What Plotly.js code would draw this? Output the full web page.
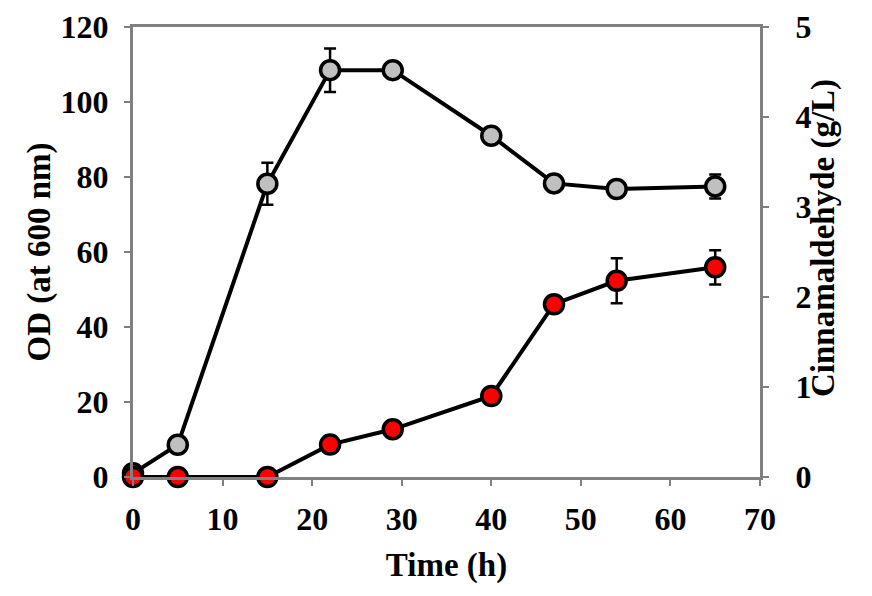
<!DOCTYPE html>
<html>
<head>
<meta charset="utf-8">
<script src="https://cdn.plot.ly/plotly-3.0.1.min.js"></script>
<style>
  body { margin: 0; background: #fff; }
  #chart { width: 872px; height: 596px; }
</style>
</head>
<body>
<div id="chart"></div>
<script>
// time points (h)
var timeH = [0, 5, 15, 22, 29, 40, 47, 54, 65];

// OD at 600 nm (left axis)
var odValues = [1, 8.6, 78.2, 108.5, 108.5, 91, 78.3, 76.8, 77.5];
var odErr    = [0, 0, 5.6, 5.8, 0, 0, 0, 0, 3.2];

// cinnamaldehyde g/L (right axis)
var cinValues = [0, 0, 0, 0.36, 0.53, 0.9, 1.92, 2.18, 2.33];
var cinErr    = [0, 0, 0, 0, 0, 0, 0, 0.25, 0.19];

var serif = "Liberation Serif, Times New Roman, serif";
var tickFont = {family: serif, size: 32, color: "#000", weight: "bold"};
var titleFont = {family: serif, size: 33, color: "#000", weight: "bold"};

var od = {
  x: timeH, y: odValues,
  mode: "lines+markers",
  cliponaxis: false,
  line: {color: "#000", width: 4},
  marker: {size: 19, color: "#c0c0c0", line: {color: "#000", width: 3.5}},
  error_y: {type: "data", array: odErr, color: "#000", thickness: 2.5, width: 6},
  yaxis: "y"
};

var cin = {
  x: timeH, y: cinValues,
  mode: "lines+markers",
  cliponaxis: false,
  line: {color: "#000", width: 4},
  marker: {size: 19, color: "#ff0000", line: {color: "#000", width: 3.5}},
  error_y: {type: "data", array: cinErr, color: "#000", thickness: 2.5, width: 6},
  yaxis: "y2"
};

var layout = {
  width: 872, height: 596,
  margin: {l: 133, r: 112, t: 27, b: 119},
  showlegend: false,
  paper_bgcolor: "#fff", plot_bgcolor: "#fff",
  xaxis: {
    range: [0, 70], dtick: 10, tick0: 0,
    showgrid: false, zeroline: false,
    showline: true, mirror: true, linecolor: "#808080", linewidth: 3,
    ticks: "outside", ticklen: 6, tickwidth: 2, tickcolor: "#808080",
    ticklabelstandoff: 6,
    tickfont: tickFont,
    title: {text: "Time (h)", font: titleFont, standoff: 17}
  },
  yaxis: {
    range: [0, 120], dtick: 20,
    showgrid: false, zeroline: false,
    showline: true, linecolor: "#808080", linewidth: 3,
    ticks: "outside", ticklen: 6, tickwidth: 2, tickcolor: "#808080",
    ticklabelstandoff: 9,
    tickfont: tickFont,
    title: {text: "OD (at 600 nm)", font: titleFont, standoff: 1}
  },
  yaxis2: {
    range: [0, 5], dtick: 1, overlaying: "y", side: "right",
    showgrid: false, zeroline: false,
    showline: true, linecolor: "#808080", linewidth: 3,
    ticks: "outside", ticklen: 6, tickwidth: 2, tickcolor: "#808080",
    ticklabelstandoff: 20,
    tickfont: tickFont
  },
  annotations: [{
    text: "Cinnamaldehyde (g/L)", font: titleFont,
    xref: "paper", yref: "paper", x: 1.1005, y: 0.531,
    xanchor: "center", yanchor: "middle",
    textangle: -90, showarrow: false
  }]
};

Plotly.newPlot("chart", [od, cin], layout, {displayModeBar: false, staticPlot: true});
</script>
</body>
</html>
